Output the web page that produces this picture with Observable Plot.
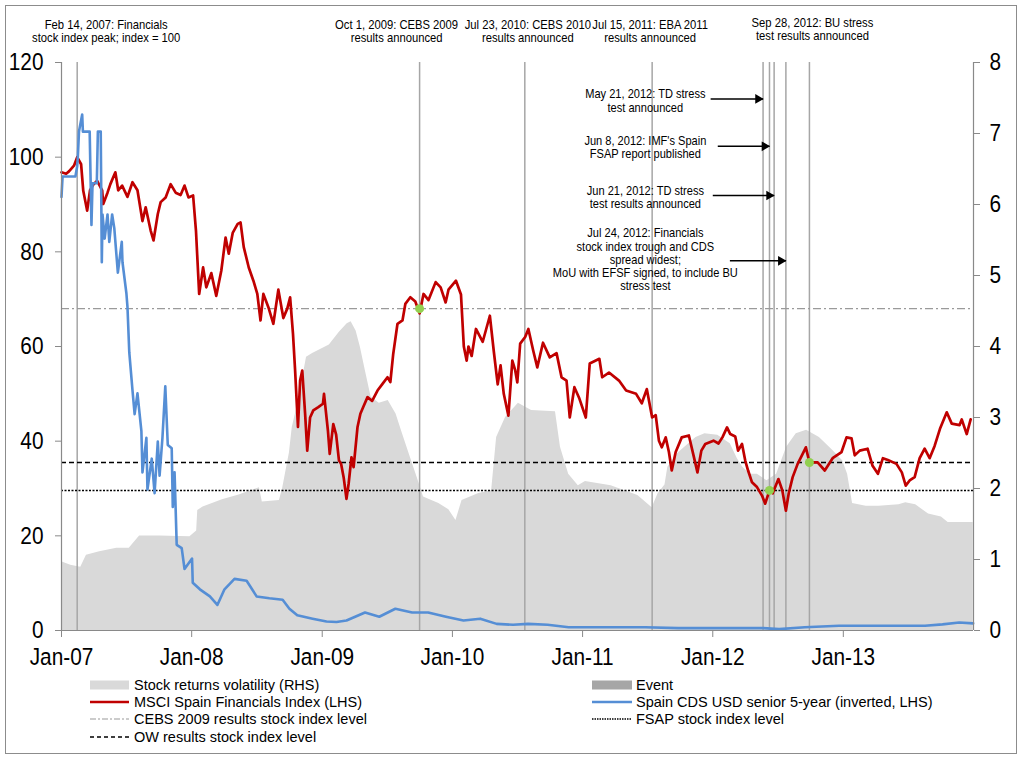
<!DOCTYPE html>
<html><head><meta charset="utf-8">
<script src="https://cdn.jsdelivr.net/npm/d3@7"></script>
<script src="https://cdn.jsdelivr.net/npm/@observablehq/plot@0.6"></script>
<style>
html,body{margin:0;padding:0;background:#fff;}
#wrap{position:relative;width:1024px;height:761px;overflow:hidden;font-family:"Liberation Sans",Arial,sans-serif;}
#chart{position:absolute;left:0;top:0;}
#border{position:absolute;left:5px;top:5px;width:1010px;height:747px;border:1.5px solid #8c8c8c;pointer-events:none;}
.leg{position:absolute;height:18px;display:flex;align-items:center;font-size:14.5px;color:#000;white-space:nowrap;}
.leg svg{flex:none;margin-right:4px;}
</style></head>
<body><div id="wrap"><div id="chart"></div><div id="legend"></div><div id="border"></div></div>
<script>
// ---------- data ----------
const msciIndex = [
["2007-01-01",96.8],["2007-01-14",96.5],["2007-01-22",97],["2007-02-05",98.2],["2007-02-14",100],["2007-02-25",98.5],
["2007-03-03",92.9],["2007-03-14",88.7],["2007-03-22",93],["2007-04-01",94.3],["2007-04-11",95],["2007-04-25",93],
["2007-04-28",90.1],["2007-05-10",92.5],["2007-05-18",94.3],["2007-06-01",96.8],["2007-06-09",93],["2007-06-20",94],
["2007-07-05",91.6],["2007-07-19",94.7],["2007-08-02",93],["2007-08-16",86.5],["2007-08-25",89.4],["2007-09-08",84.5],
["2007-09-16",82.4],["2007-09-28",88],["2007-10-06",90.5],["2007-10-20",91.5],["2007-11-03",94.3],["2007-11-17",92.5],
["2007-12-01",92],["2007-12-12",94],["2007-12-23",91.5],["2008-01-05",91.9],["2008-01-13",84.5],["2008-01-22",71.1],
["2008-02-02",76.7],["2008-02-11",72.5],["2008-02-25",75.5],["2008-03-10",70.7],["2008-03-24",76],["2008-04-05",83],
["2008-04-14",79.6],["2008-04-25",84],["2008-05-09",85.9],["2008-05-17",86.2],["2008-05-26",81],["2008-06-09",76.7],
["2008-06-22",73.9],["2008-07-03",71.1],["2008-07-12",65.5],["2008-07-20",71.1],["2008-08-03",68.3],["2008-08-17",64.8],
["2008-08-31",72],["2008-09-14",66],["2008-09-25",68],["2008-10-03",70.4],["2008-10-11",62.7],["2008-10-17",54.9],
["2008-10-25",43],["2008-10-31",52.8],["2008-11-06",54.9],["2008-11-14",45.8],["2008-11-20",38],["2008-11-28",45],
["2008-12-07",46.5],["2008-12-21",47.2],["2009-01-03",47.9],["2009-01-06",50],["2009-01-17",42.2],["2009-01-22",37.3],
["2009-02-01",43.6],["2009-02-09",41.4],["2009-02-17",35.9],["2009-02-23",35.2],["2009-03-02",32.4],["2009-03-10",27.8],
["2009-03-16",31],["2009-03-24",36.6],["2009-03-30",34.5],["2009-04-10",43],["2009-04-18",45.8],["2009-04-26",47.2],
["2009-05-08",49.3],["2009-05-21",48.5],["2009-06-05",50.7],["2009-06-19",52.1],["2009-07-03",53.5],["2009-07-11",52.5],
["2009-07-19",58.4],["2009-07-31",64.8],["2009-08-14",65.5],["2009-08-22",69],["2009-09-05",70.4],["2009-09-19",69.5],
["2009-10-01",67],["2009-10-12",71.1],["2009-10-26",69.8],["2009-11-15",73.6],["2009-11-29",72.5],["2009-12-13",69.3],
["2009-12-21",72],["2010-01-11",73.9],["2010-01-25",71],["2010-02-02",60],["2010-02-10",57],["2010-02-15",60],
["2010-02-24",58],["2010-03-08",63.7],["2010-03-27",61],["2010-04-16",66.5],["2010-04-27",59],["2010-05-08",52],
["2010-05-16",56],["2010-05-25",50],["2010-06-07",45.4],["2010-06-18",57],["2010-06-26",55],["2010-07-02",52.4],
["2010-07-10",60.6],["2010-07-24",62],["2010-08-02",63.7],["2010-08-16",59],["2010-08-27",55.6],["2010-09-12",60.8],
["2010-10-01",57.7],["2010-10-20",58.6],["2010-11-03",53.5],["2010-11-17",52.8],["2010-11-26",45],["2010-12-09",51.4],
["2010-12-23",49],["2011-01-10",45],["2011-01-21",56.4],["2011-02-17",57.4],["2011-02-25",53.5],["2011-03-16",54.5],
["2011-04-13",52.8],["2011-05-03",50.7],["2011-05-31",50],["2011-06-16",48],["2011-06-30",51],["2011-07-15",45],
["2011-07-25",45.5],["2011-08-03",40.1],["2011-08-11",38.7],["2011-08-22",40.8],["2011-08-31",37.7],["2011-09-08",33.8],
["2011-09-19",37.7],["2011-10-06",40.8],["2011-10-26",41.2],["2011-11-08",37],["2011-11-19",33.4],["2011-11-30",38],
["2011-12-11",39.4],["2012-01-03",40.1],["2012-01-17",39.5],["2012-01-28",40.8],["2012-02-10",42.9],["2012-02-19",41.5],
["2012-03-04",41],["2012-03-12",38],["2012-03-23",39.4],["2012-04-01",35.9],["2012-04-09",33.8],["2012-04-20",31.3],
["2012-05-04",30.3],["2012-05-18",28.5],["2012-05-27",26.8],["2012-06-08",29.6],["2012-06-17",29],["2012-07-03",32],
["2012-07-14",29.6],["2012-07-24",25.3],["2012-08-01",29],["2012-08-12",32.4],["2012-08-26",35.2],["2012-09-09",37.3],
["2012-09-18",38.7],["2012-09-28",35.5],["2012-10-21",35.5],["2012-11-10",33.8],["2012-12-02",36.4],["2012-12-27",37.7],
["2013-01-10",40.8],["2013-01-24",40.6],["2013-02-02",37],["2013-02-16",38],["2013-03-10",38.4],["2013-03-24",34.8],
["2013-04-08",33.1],["2013-04-22",36.4],["2013-05-06",36],["2013-05-30",35.2],["2013-06-14",33.4],["2013-06-25",30.6],
["2013-07-06",31.7],["2013-07-20",32.4],["2013-08-03",36.4],["2013-08-17",38.4],["2013-08-31",36.4],["2013-09-14",39],
["2013-09-29",42.6],["2013-10-18",46.1],["2013-11-01",43.7],["2013-11-23",43.4],["2013-11-29",44.6],["2013-12-13",41.5],
["2013-12-24",44.6]
];
const cdsInverted = [
["2007-01-01",91.6],["2007-01-04",95.9],["2007-02-09",95.9],["2007-02-14",98.1],["2007-02-16",100.3],["2007-02-19",105.4],
["2007-02-28",109],["2007-03-02",105.4],["2007-03-21",105.4],["2007-03-26",85.7],["2007-03-29",94.5],["2007-04-10",94.5],
["2007-04-13",105.4],["2007-04-21",105.4],["2007-04-24",77.8],["2007-04-26",87.9],["2007-05-02",82.8],["2007-05-10",87.9],
["2007-05-15",82.1],["2007-05-23",87.9],["2007-05-29",85],["2007-06-08",75.6],["2007-06-19",82.1],["2007-06-21",77.8],
["2007-07-02",71.2],["2007-07-05",68.3],["2007-07-10",58.8],["2007-07-19",50.8],["2007-07-25",45.7],["2007-08-02",50.1],
["2007-08-13",42.1],["2007-08-16",33.4],["2007-08-27",40.7],["2007-08-30",29.8],["2007-09-11",36.3],["2007-09-19",29],
["2007-09-28",39.9],["2007-10-03",32.7],["2007-10-11",40.7],["2007-10-19",51.6],["2007-10-26",39.2],["2007-11-06",38.5],
["2007-11-09",26.1],["2007-11-14",33.4],["2007-11-20",18.1],["2007-12-04",17.4],["2007-12-12",13],["2008-01-02",15.2],
["2008-01-04",10.1],["2008-01-24",8.7],["2008-02-21",7.2],["2008-03-13",5.4],["2008-04-02",8.7],["2008-04-30",10.9],
["2008-06-03",10.5],["2008-07-01",7.2],["2008-08-06",6.8],["2008-09-12",6.5],["2008-10-01",4.6],["2008-10-23",3.2],
["2008-12-05",2.5],["2009-01-13",1.9],["2009-02-10",1.8],["2009-03-10",2.1],["2009-05-01",3.8],["2009-06-10",2.9],
["2009-07-25",4.6],["2009-09-10",3.8],["2009-10-25",3.8],["2009-12-14",2.9],["2010-02-01",2.1],["2010-03-20",2.5],
["2010-05-05",1.4],["2010-06-20",1.2],["2010-08-01",1.4],["2010-09-25",1.2],["2010-11-23",0.7],["2011-03-22",0.7],
["2011-06-25",0.7],["2011-09-26",0.5],["2012-05-21",0.5],["2012-07-05",0.3],["2012-09-15",0.7],["2012-12-20",1.0],
["2013-03-25",1.0],["2013-08-18",1.0],["2013-10-06",1.3],["2013-11-22",1.7],["2013-12-31",1.5]
];
const volatility = [
["2007-01-01",0.97],["2007-01-27",0.92],["2007-02-24",0.89],["2007-03-12",1.06],["2007-04-18",1.11],["2007-06-05",1.16],
["2007-07-10",1.16],["2007-08-08",1.33],["2007-10-03",1.33],["2007-12-27",1.32],["2008-01-15",1.40],["2008-01-18",1.69],
["2008-02-02",1.74],["2008-03-27",1.84],["2008-05-13",1.91],["2008-07-09",2.01],["2008-07-17",1.81],["2008-09-03",1.83],
["2008-09-12",2.0],["2008-10-01",2.5],["2008-10-09",2.86],["2008-10-25",3.2],["2008-11-18",3.85],["2008-12-05",3.9],
["2009-01-21",4.02],["2009-02-18",4.2],["2009-03-12",4.32],["2009-03-23",4.35],["2009-04-06",4.22],["2009-04-18",3.99],
["2009-05-02",3.66],["2009-05-18",3.29],["2009-06-10",3.2],["2009-07-05",3.24],["2009-07-27",3.05],["2009-08-14",2.77],
["2009-09-05",2.44],["2009-09-24",2.16],["2009-10-12",1.88],["2009-11-24",1.79],["2009-12-22",1.7],["2010-01-11",1.55],
["2010-01-28",1.83],["2010-03-16",1.93],["2010-04-21",1.97],["2010-05-05",2.72],["2010-05-30",3.0],["2010-07-05",3.2],
["2010-08-11",3.1],["2010-10-17",3.08],["2010-10-31",2.58],["2010-11-23",2.2],["2010-12-20",2.04],["2011-01-09",2.1],
["2011-03-22",2.04],["2011-06-05",1.9],["2011-07-15",1.73],["2011-08-01",1.93],["2011-08-20",2.05],["2011-08-28",2.3],
["2011-09-26",2.5],["2011-11-15",2.72],["2011-12-10",2.77],["2012-01-15",2.75],["2012-02-19",2.63],["2012-03-10",2.42],
["2012-03-25",2.3],["2012-04-15",2.2],["2012-05-05",2.2],["2012-06-01",2.11],["2012-06-28",2.2],["2012-07-26",2.58],
["2012-08-22",2.77],["2012-09-20",2.82],["2012-10-26",2.72],["2012-12-02",2.54],["2012-12-30",2.39],["2013-01-13",2.2],
["2013-01-27",1.79],["2013-03-06",1.75],["2013-04-11",1.75],["2013-06-06",1.77],["2013-06-25",1.8],["2013-07-23",1.77],
["2013-08-28",1.64],["2013-10-03",1.6],["2013-10-22",1.52],["2013-12-17",1.52],["2013-12-31",1.52]
];
const eventDates = ["2007-02-14","2009-10-01","2010-07-23","2011-07-15","2012-05-21","2012-06-08","2012-06-21","2012-07-24","2012-09-28"];
const cebsLevel = 68, owLevel = 35.5, fsapLevel = 29.6;
const levelDots = [["2009-10-01", cebsLevel], ["2012-06-08", fsapLevel], ["2012-09-28", owLevel]];
const topNoteDates = ["2007-02-14","2009-10-01","2010-07-23","2011-07-15","2012-09-28"];
const topNoteLabels = [
  "Feb 14, 2007: Financials\nstock index peak; index = 100",
  "Oct 1, 2009: CEBS 2009\nresults announced",
  "Jul 23, 2010: CEBS 2010\nresults announced",
  "Jul 15, 2011: EBA 2011\nresults announced",
  "Sep 28, 2012: BU stress\ntest results announced"
];
const sideNoteDates = ["2012-05-21","2012-06-08","2012-06-21","2012-07-24"];
const sideNoteLabels = [
  "May 21, 2012: TD stress\ntest announced",
  "Jun 8, 2012: IMF's Spain\nFSAP report published",
  "Jun 21, 2012: TD stress\ntest results announced",
  "Jul 24, 2012: Financials\nstock index trough and CDS\nspread widest;\nMoU with EFSF signed, to include BU\nstress test"
];
const sideNoteCenter = "2011-06-26";
const sideNoteY = [111.9, 102, 91.5, 78.4];
const arrowFrom = ["2011-12-26","2012-01-15","2012-01-01","2012-02-18"];
const arrowY = [112.3, 102.3, 91.9, 78.1];
const xTicks = ["2007-01-01","2008-01-01","2009-01-01","2010-01-01","2011-01-01","2012-01-01","2013-01-01"];
const leftTicks = [0,20,40,60,80,100,120];
const rightTicks = [0,1,2,3,4,5,6,7,8];
const xDomain = ["2007-01-01","2014-01-01"];
const legendLeft = ["Stock returns volatility (RHS)","MSCI Spain Financials Index (LHS)","CEBS 2009 results stock index level","OW results stock index level"];
const legendRight = ["Event","Spain CDS USD senior 5-year (inverted, LHS)","FSAP stock index level"];

// ---------- build ----------
const parse = d3.utcParse("%Y-%m-%d");
const RHS = 120 / 8;
const red = msciIndex.map(([d, v]) => ({date: parse(d), value: v}));
const blue = cdsInverted.map(([d, v]) => ({date: parse(d), value: v}));
const vol = volatility.map(([d, v]) => ({date: parse(d), value: v * RHS}));
const events = eventDates.map(parse);
const dots = levelDots.map(([d, v]) => ({date: parse(d), value: v}));
const topNotes = topNoteDates.map((d, i) => ({date: parse(d), label: topNoteLabels[i]}));
const sideNotes = sideNoteDates.map((d, i) => ({date: parse(d), center: parse(sideNoteCenter), label: sideNoteLabels[i], ty: sideNoteY[i], from: parse(arrowFrom[i]), ay: arrowY[i]}));
const dom = xDomain.map(parse);
const fmt = d3.utcFormat("%b-%y");

const FONT = "'Liberation Sans',Arial,sans-serif";
const noteDx = [29, -23, 3, -2, 3];
const noteDy = [-31, -31, -31, -31, -33];
const tickStyle = {stroke: "#898989", fill: "#000", fontSize: 24.5, fontFamily: FONT, label: null};

const marks = [
  Plot.areaY(vol, {x: "date", y: "value", fill: "#d9d9d9"}),
  Plot.ruleX(events, {stroke: "#a6a6a6", strokeWidth: 1.5}),
  Plot.ruleY([cebsLevel], {stroke: "#9a9a9a", strokeWidth: 1.2, strokeDasharray: "8,3,2,3"}),
  Plot.ruleY([owLevel], {stroke: "#000", strokeWidth: 1.5, strokeDasharray: "5,3"}),
  Plot.ruleY([fsapLevel], {stroke: "#000", strokeWidth: 1.5, strokeDasharray: "2,1.5"}),
  Plot.lineY(red, {x: "date", y: "value", stroke: "#c00000", strokeWidth: 2.7}),
  Plot.lineY(blue, {x: "date", y: "value", stroke: "#558ed5", strokeWidth: 2.6}),
  Plot.dot(dots, {x: "date", y: "value", r: 4.5, fill: "#92d050"}),
  Plot.ruleX([dom[0]], {stroke: "#898989", strokeWidth: 1.2}),
  Plot.ruleX([dom[1]], {stroke: "#898989", strokeWidth: 1.2}),
  Plot.ruleY([0], {stroke: "#898989", strokeWidth: 1.2}),
  Plot.axisX({ticks: xTicks.map(parse), tickFormat: fmt, tickSize: 7, tickPadding: 10, ...tickStyle}),
  Plot.axisY({anchor: "left", ticks: leftTicks, tickSize: 6, tickPadding: 12, ...tickStyle}),
  Plot.axisY({anchor: "right", ticks: rightTicks.map(t => t * RHS), tickFormat: d => d / RHS, tickSize: 6, tickPadding: 10, ...tickStyle}),
  ...topNotes.map((n, i) => Plot.text([n], {x: "date", text: "label", frameAnchor: "top", dx: noteDx[i], dy: noteDy[i], lineAnchor: "middle", lineHeight: 1.07, fontSize: 12.5, fontFamily: FONT, fill: "#000"})),
  Plot.text(sideNotes, {x: "center", y: "ty", text: "label", lineAnchor: "middle", lineHeight: 1.065, fontSize: 12.3, fontFamily: FONT, fill: "#000"}),
  Plot.link(sideNotes, {x1: "from", x2: "date", y1: "ay", y2: "ay", stroke: "#000", strokeWidth: 1.5}),
  Plot.dot(sideNotes, {x: "date", y: "ay", symbol: "triangle", rotate: 90, r: 3.6, fill: "#000", dx: -5})
];

const chart = Plot.plot({
  width: 1024, height: 672,
  marginLeft: 61, marginRight: 51, marginTop: 62, marginBottom: 42,
  x: {type: "utc", domain: dom, label: null},
  y: {domain: [0, 120], label: null},
  style: {background: "transparent", overflow: "visible"},
  marks
});
// horizontal condensing of the text faces (the source uses narrow type)
function condense(sel, k) {
  chart.querySelectorAll(sel).forEach(t => {
    const x = t.getAttribute("x");
    if (x != null && !isNaN(+x)) t.setAttribute("x", +x / k);
    t.querySelectorAll("tspan").forEach(s => { const sx = s.getAttribute("x"); if (sx != null && !isNaN(+sx)) s.setAttribute("x", +sx / k); });
    t.setAttribute("transform", (t.getAttribute("transform") || "") + ` scale(${k},1)`);
  });
}
condense('g[aria-label$="tick label"] text', 0.85);
condense('g[aria-label="text"] text', 0.9);
document.getElementById("chart").appendChild(chart);

// ---------- legend ----------
const legendStyles = {
  area: () => `<rect x="0" y="4.5" width="39" height="9" fill="#d9d9d9"/>`,
  event: () => `<rect x="0" y="4.5" width="40" height="9" fill="#a6a6a6"/>`,
  red: () => `<line x1="0" x2="39" y1="9" y2="9" stroke="#c00000" stroke-width="2.5"/>`,
  blue: () => `<line x1="0" x2="40" y1="9" y2="9" stroke="#558ed5" stroke-width="2.5"/>`,
  cebs: () => `<line x1="0" x2="39" y1="9" y2="9" stroke="#9a9a9a" stroke-width="1.2" stroke-dasharray="6,2,2,2"/>`,
  ow: () => `<line x1="0" x2="39" y1="9" y2="9" stroke="#000" stroke-width="1.4" stroke-dasharray="4,3"/>`,
  fsap: () => `<line x1="0" x2="40" y1="9" y2="9" stroke="#000" stroke-width="1.4" stroke-dasharray="1.5,1"/>`
};
const leftKinds = ["area", "red", "cebs", "ow"];
const rightKinds = ["event", "blue", "fsap"];
const rowCenters = [685, 702, 719, 737];
const legend = document.getElementById("legend");
function addItem(label, kind, left, center) {
  const div = document.createElement("div");
  div.className = "leg";
  div.style.left = left + "px";
  div.style.top = (center - 9) + "px";
  div.innerHTML = `<svg width="40" height="18">${legendStyles[kind]()}</svg><span>${label}</span>`;
  legend.appendChild(div);
}
legendLeft.forEach((l, i) => addItem(l, leftKinds[i], 90, rowCenters[i]));
legendRight.forEach((l, i) => addItem(l, rightKinds[i], 592, rowCenters[i]));
</script>
</body></html>
